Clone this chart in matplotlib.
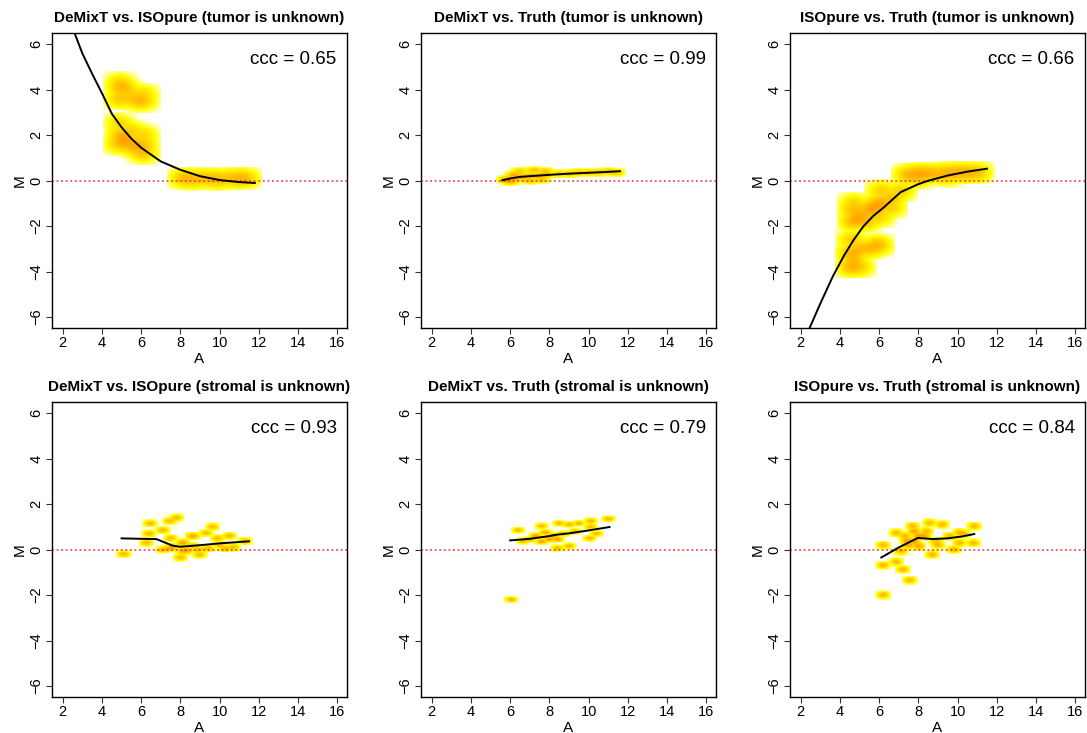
import numpy as np
import matplotlib
matplotlib.use('Agg')
import matplotlib.pyplot as plt
from matplotlib.colors import LinearSegmentedColormap

plt.rcParams['font.family'] = ['Liberation Sans', 'DejaVu Sans']

# panel titles and ccc values
titles = ['DeMixT vs. ISOpure (tumor is unknown)',
          'DeMixT vs. Truth (tumor is unknown)',
          'ISOpure vs. Truth (tumor is unknown)',
          'DeMixT vs. ISOpure (stromal is unknown)',
          'DeMixT vs. Truth (stromal is unknown)',
          'ISOpure vs. Truth (stromal is unknown)']
ccc = [0.65, 0.99, 0.66, 0.93, 0.79, 0.84]

# point clouds (A, M, weight)
p1_A = [4.9, 4.9, 5.0, 5.3, 5.6, 5.9, 6.1, 6.1, 5.4,
        4.9, 5.0, 4.9, 5.1, 5.3, 5.6, 5.9, 6.1, 6.1, 5.5, 6.1,
        8.2, 8.6, 9.0, 9.5, 9.9, 10.5, 11.0, 11.3]
p1_M = [4.3, 3.6, 4.1, 4.0, 3.6, 3.5, 3.5, 3.8, 3.7,
        2.5, 2.0, 1.6, 1.8, 1.7, 1.5, 1.4, 2.0, 1.2, 2.2, 1.6,
        0.1, 0.05, 0.1, 0.1, 0.05, 0.1, 0.1, 0.1]
p1_w = [1, 2, 3, 1, 1, 2, 1, 1, 1,
        1, 3, 2, 4, 3, 3, 2, 1, 2, 1, 2,
        3, 2, 2, 2, 3, 2, 3, 2]
p1_fitA = [2.6, 3.0, 3.5, 4.0, 4.5, 5.0, 5.5, 6.0, 7.0, 8.0, 9.0, 10.0, 11.0, 11.8]
p1_fitM = [6.5, 5.6, 4.7, 3.85, 2.95, 2.35, 1.85, 1.45, 0.85, 0.48, 0.2, 0.03, -0.06, -0.1]

p2_A = [5.8, 6.2, 6.6, 7.0, 7.4, 7.8, 6.5, 7.2, 7.8, 6.0, 7.0, 7.6,
        6.2, 8.5, 9.0, 9.5, 10.0, 10.5, 11.0, 11.4]
p2_M = [0.05, 0.1, 0.15, 0.2, 0.2, 0.25, 0.4, 0.45, 0.4, -0.05, 0.0, 0.05,
        0.25, 0.3, 0.3, 0.35, 0.35, 0.35, 0.4, 0.35]
p2_w = [3, 3, 3, 2, 2, 2, 1, 1, 1, 2, 1, 1,
        2, 1, 1, 1, 1, 1, 1, 1]
p2_fitA = [5.6, 6.0, 6.5, 7.0, 8.0, 9.0, 10.0, 11.0, 11.6]
p2_fitM = [0.02, 0.1, 0.17, 0.2, 0.26, 0.31, 0.35, 0.39, 0.42]

p3_A = [7.5, 8.0, 8.5, 9.0, 9.5, 10.0, 10.5, 11.0, 8.0, 9.5,
        6.1, 7.1, 6.6, 6.0, 5.5, 5.0, 4.7, 4.7, 5.3, 6.0, 6.6, 4.7, 5.8,
        4.6, 4.6, 5.0, 5.5, 5.9, 4.7, 5.0, 4.6]
p3_M = [0.25, 0.3, 0.3, 0.3, 0.35, 0.35, 0.35, 0.35, 0.1, 0.2,
        -0.45, -0.45, -0.8, -1.0, -1.3, -1.6, -1.8, -1.3, -1.8, -1.6, -1.2, -1.0, -1.2,
        -3.8, -3.2, -3.0, -3.0, -2.85, -3.5, -3.8, -2.6]
p3_w = [3, 4, 3, 2, 2, 3, 3, 2, 1, 1,
        1, 1, 2, 4, 4, 4, 3, 2, 2, 1, 1, 1, 3,
        3, 3, 2, 2, 3, 2, 1, 1]
p3_fitA = [2.44, 3.0, 3.64, 4.2, 4.7, 5.2, 5.7, 6.2, 7.1, 8.0, 8.5, 9.5, 10.5, 11.5]
p3_fitM = [-6.5, -5.4, -4.2, -3.3, -2.6, -2.0, -1.55, -1.2, -0.5, -0.15, 0.0, 0.23, 0.4, 0.53]

p4_A = [5.1, 6.45, 6.4, 6.26, 7.1, 7.45, 7.8, 7.5, 7.1, 8.12, 8.0, 8.63, 8.9, 8.97,
        9.3, 9.64, 9.9, 10.5, 10.7, 11.3, 7.6, 10.0,
        7.4, 8.3, 8.6, 9.4, 10.3, 8.1]
p4_M = [-0.2, 1.15, 0.7, 0.3, 0.85, 1.25, 1.4, 0.5, 0.0, 0.3, -0.35, 0.59, 0.0, -0.22,
        0.73, 1.0, 0.5, 0.6, 0.1, 0.37, 0.1, 0.2,
        0.05, -0.05, 0.15, 0.05, 0.05, -0.1]
p4_w = [1, 1, 1, 1, 1, 1, 1, 1, 1, 2, 1, 2, 1, 1,
        1, 1, 1, 1, 1, 1, 2, 1,
        1, 2, 1, 1, 1, 1]
p4_fitA = [5.0, 6.0, 6.77, 7.6, 8.0, 9.0, 10.0, 11.5]
p4_fitM = [0.5, 0.48, 0.47, 0.18, 0.13, 0.2, 0.28, 0.37]

p5_A = [6.05, 6.4, 11.0, 6.65, 7.6, 7.8, 8.5, 9.0, 9.5, 10.1, 10.1, 10.05, 10.4,
        8.4, 9.0, 7.3, 8.0, 7.0, 9.3, 8.7, 8.2, 7.6, 8.4]
p5_M = [-2.2, 0.85, 1.35, 0.37, 1.03, 0.75, 1.16, 1.1, 1.16, 1.25, 1.0, 0.5, 0.7,
        0.07, 0.15, 0.6, 0.45, 0.45, 0.8, 0.7, 0.6, 0.35, 0.45]
p5_w = [1, 1, 1, 1, 1, 2, 1, 1, 1, 1, 1, 1, 1,
        1, 1, 2, 2, 1, 1, 1, 2, 2, 2]
p5_fitA = [6.0, 7.0, 8.0, 8.35, 9.0, 10.0, 11.07]
p5_fitM = [0.41, 0.48, 0.6, 0.66, 0.72, 0.85, 1.0]

p6_A = [6.2, 6.2, 6.87, 7.2, 7.55, 6.2, 6.87, 7.1, 7.7, 8.0, 8.56, 9.2, 8.7, 8.0,
        8.9, 9.6, 10.1, 10.8, 10.85, 10.1, 7.4, 8.3,
        7.5, 7.8, 7.3, 8.4, 9.0, 9.8, 10.3, 7.8]
p6_M = [-2.0, -0.69, -0.54, -0.88, -1.35, 0.19, 0.73, -0.07, 1.03, 0.6, 1.17, 1.1, -0.22, 0.15,
        0.35, 0.59, 0.3, 0.29, 1.03, 0.75, 0.4, 0.6,
        0.2, 0.8, 0.6, 0.8, 0.2, 0.0, 0.7, 0.35]
p6_w = [1, 1, 1, 1, 1, 1, 1, 1, 1, 2, 1, 1, 1, 2,
        1, 1, 1, 1, 1, 1, 2, 2,
        2, 2, 1, 1, 1, 1, 1, 2]
p6_fitA = [6.11, 7.0, 7.97, 8.73, 9.5, 10.2, 10.85]
p6_fitM = [-0.34, 0.1, 0.52, 0.47, 0.5, 0.58, 0.69]

pts_A = [p1_A, p2_A, p3_A, p4_A, p5_A, p6_A]
pts_M = [p1_M, p2_M, p3_M, p4_M, p5_M, p6_M]
pts_w = [p1_w, p2_w, p3_w, p4_w, p5_w, p6_w]
fit_A = [p1_fitA, p2_fitA, p3_fitA, p4_fitA, p5_fitA, p6_fitA]
fit_M = [p1_fitM, p2_fitM, p3_fitM, p4_fitM, p5_fitM, p6_fitM]

# kernel bandwidths (A, M) per panel
bw = [(0.26, 0.15), (0.15, 0.06), (0.26, 0.15), (0.12, 0.055), (0.11, 0.045), (0.12, 0.06)]

xlo, xhi = 1.45, 16.5
ylo, yhi = -6.48, 6.5
gx = np.arange(xlo, xhi, 0.02)
gy = np.arange(ylo, yhi, 0.02)
GX, GY = np.meshgrid(gx, gy)

cmap = LinearSegmentedColormap.from_list(
    'wyo', [(0.0, 'white'), (0.32, 'yellow'), (1.0, '#ffa000')])


def density(A, M, W, b):
    z = np.zeros_like(GX)
    for a, m, w in zip(A, M, W):
        u = (GX - a) / b[0]
        v = (GY - m) / b[1]
        inside = (np.abs(u) <= 3.4) & (np.abs(v) <= 3.4)
        z += np.where(inside, w * np.exp(-0.5 * (u ** 2 + v ** 2)), 0)
    z = z ** 0.25
    z = z / z.max()
    return np.ma.masked_where(z <= 0, z)


fig = plt.figure(figsize=(10.87, 7.33), dpi=100)
lefts = [52, 421, 790]
tops = [33, 402]

for i in range(6):
    l = lefts[i % 3]
    t = tops[i // 3]
    ax = fig.add_axes([l / 1087, 1 - (t + 295) / 733, 295 / 1087, 295 / 733])
    z = density(pts_A[i], pts_M[i], pts_w[i], bw[i])
    ax.imshow(z, cmap=cmap, vmin=0, vmax=1, extent=[xlo, xhi, ylo, yhi],
              origin='lower', aspect='auto', interpolation='nearest', zorder=1)
    ax.axhline(0, color='#f03030', linestyle=(0, (1.2, 1.8)), linewidth=1.1, zorder=2)
    ax.plot(fit_A[i], fit_M[i], color='black', linewidth=1.4, zorder=3)
    ax.set_xlim(xlo, xhi)
    ax.set_ylim(ylo, yhi)
    ax.set_xticks([2, 4, 6, 8, 10, 12, 14, 16])
    ax.set_yticks([-6, -4, -2, 0, 2, 4, 6])
    ax.tick_params(length=4, width=0.8, pad=2, labelsize=10.5, color='#333333')
    for lab in ax.get_yticklabels():
        lab.set_rotation(90)
        lab.set_va('center')
    ax.set_xlabel('A', fontsize=11, labelpad=1)
    ax.set_ylabel('M', fontsize=11, labelpad=2)
    ax.set_title(titles[i], fontsize=11, fontweight='bold', pad=8)
    ax.text(0.965, 0.91, 'ccc = %.2f' % ccc[i], transform=ax.transAxes,
            ha='right', va='center', fontsize=13.5)
    for s in ax.spines.values():
        s.set_linewidth(1.0)

fig.savefig('out.png', dpi=100)
